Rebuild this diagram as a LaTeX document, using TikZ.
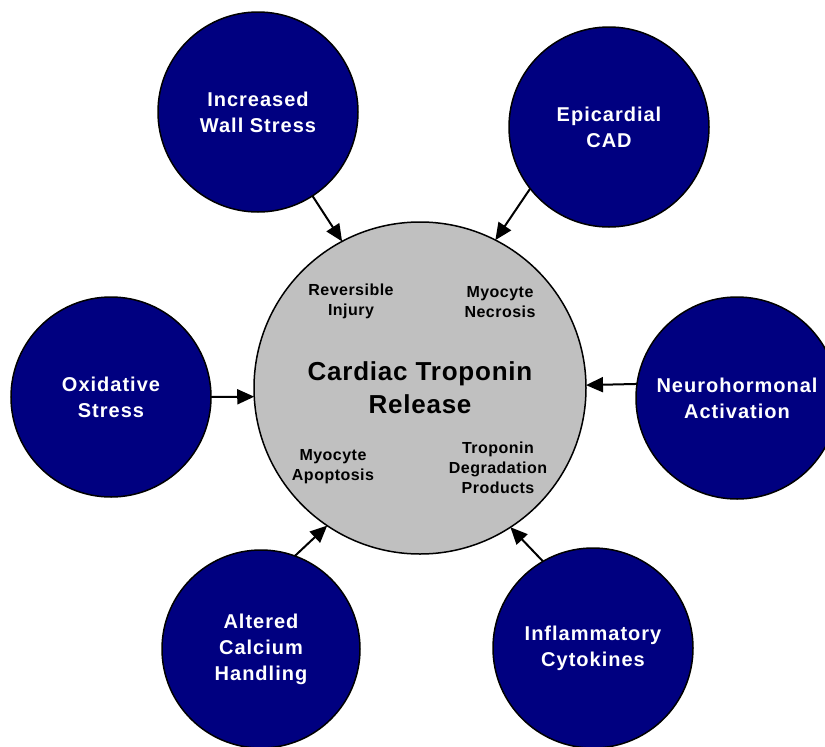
\documentclass[tikz,border=0pt]{standalone}
\usepackage{fontspec}
\setmainfont{Liberation Sans}
\newfontfamily\spacedfont[LetterSpace=5]{Liberation Sans}
\newfontfamily\midspacedfont[LetterSpace=3]{Liberation Sans}
\usetikzlibrary{arrows.meta}
\definecolor{navyfill}{HTML}{000080}
\definecolor{grayfill}{HTML}{C0C0C0}
\tikzset{
  outer/.style={circle, draw=black, line width=1.5pt, fill=navyfill, minimum size=200pt,
    inner sep=0pt, outer sep=0pt, text=white, align=center,
    font=\spacedfont\bfseries\fontsize{20}{26}\selectfont},
  center/.style={circle, draw=black, line width=1.5pt, fill=grayfill, minimum size=332pt,
    inner sep=0pt, outer sep=0pt, align=center,
    font=\midspacedfont\bfseries\fontsize{26}{33}\selectfont},
  sublabel/.style={align=center, inner sep=0pt, font=\midspacedfont\bfseries\fontsize{16}{20}\selectfont},
  arr/.style={line width=2pt, -{Triangle[length=17pt,width=15pt]}}
}
\begin{document}
\begin{tikzpicture}[x=1pt,y=-1pt]
\useasboundingbox (0,0) rectangle (825,747);
\clip (0,0) rectangle (825,747);
\node[center] (ctr) at (420,388) {Cardiac Troponin\\Release};
\node[outer] (ws) at (258,112) {Increased\\Wall Stress};
\node[outer] (ec) at (609,127) {Epicardial\\CAD};
\node[outer] (ox) at (111,397) {Oxidative\\Stress};
\node[outer, minimum size=202pt] (nh) at (737,398) {Neurohormonal\\Activation};
\node[outer, minimum size=198pt] (ac) at (261,649) {Altered\\Calcium\\Handling};
\node[outer] (ic) at (593,648) {Inflammatory\\Cytokines};
\node[sublabel] (rev) at (351,301) {Reversible\\Injury};
\node[sublabel] (nec) at (500,302.5) {Myocyte\\Necrosis};
\node[sublabel] (apo) at (333,467) {Myocyte\\Apoptosis};
\node[sublabel] (deg) at (498,467.5) {Troponin\\Degradation\\Products};
\draw[arr] (ws.-57) -- (ctr.118);
\draw[arr] (ec.218) -- (ctr.63);
\draw[arr] (ox.0) -- (ctr.183.5);
\draw[arr] (nh.172.6) -- (ctr.1);
\draw[arr] (ac.70) -- (ctr.236);
\draw[arr] (ic.120) -- (ctr.303);
\end{tikzpicture}
\end{document}
